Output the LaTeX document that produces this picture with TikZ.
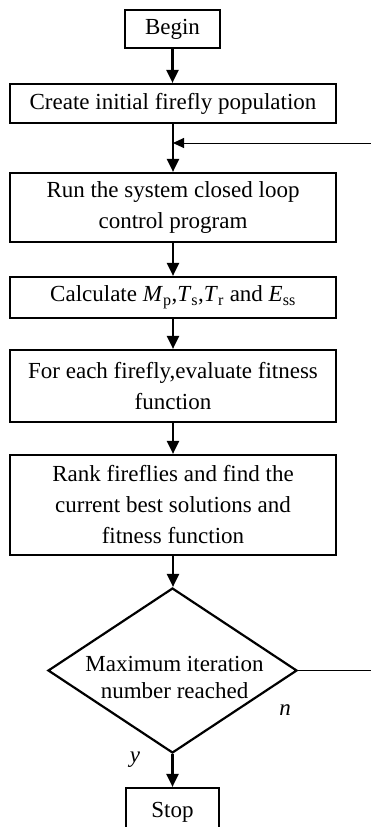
\documentclass[tikz,border=0pt]{standalone}
\usepackage{fontspec}
\setmainfont{Liberation Serif}
\usetikzlibrary{arrows.meta,shapes.geometric}
\begin{document}
\begin{tikzpicture}[x=1pt,y=-1pt,
  box/.style={draw,line width=2.2pt,inner sep=0pt,align=center,minimum width=326pt,font=\fontsize{23}{31}\selectfont},
  arr/.style={line width=2.2pt,-{Triangle[length=13pt,width=12pt]}},
  thinarr/.style={line width=1pt,-{Triangle[length=11pt,width=10pt]}},
  lbl/.style={font=\fontsize{23}{31}\selectfont\itshape,inner sep=0pt}]
\useasboundingbox (0,0) rectangle (371,827);
\clip (0,0) rectangle (371,827);
\node[box,minimum width=95pt,minimum height=38pt] (begin) at (172.5,29) {Begin};
\node[box,minimum height=39pt] (create) at (173,103.5) {Create initial firefly population};
\node[box,minimum height=69pt] (run) at (173,207.5) {Run the system closed loop\\control program};
\node[box,minimum height=41pt] (calc) at (173,297.5) {Calculate \textit{M}\textsubscript{p},\textit{T}\textsubscript{s},\textit{T}\textsubscript{r} and \textit{E}\textsubscript{ss}};
\node[box,minimum height=72pt] (each) at (173,386) {For each firefly,evaluate fitness\\function};
\node[box,minimum height=100pt] (rank) at (173,505) {Rank fireflies and find the\\current best solutions and\\fitness function};
\node[draw,diamond,line width=2.2pt,minimum width=249pt,minimum height=165pt,inner sep=0pt] (dia) at (172.5,670.5) {};
\node[align=center,inner sep=0pt,font=\fontsize{23}{27}\selectfont] (diatext) at (174.5,677) {Maximum iteration\\number reached};
\node[box,minimum width=93pt,minimum height=48pt] (stop) at (172.5,812) {Stop};
\node[lbl] (nlab) at (285,710) {n};
\node[lbl] (ylab) at (135,760) {y};
\coordinate (fbin) at (371,143);
\coordinate (fbout) at (371,670.5);
\draw[arr] (begin.south) -- (begin.south |- create.north);
\draw[arr] (create.south -| run.north) -- (run.north);
\draw[arr] (run.south) -- (calc.north);
\draw[arr] (calc.south) -- (each.north);
\draw[arr] (each.south) -- (rank.north);
\draw[arr] (rank.south) -- (rank.south |- dia.north);
\draw[arr] (dia.south) -- (dia.south |- stop.north);
\draw[thinarr] (fbin) -- (fbin -| run.north);
\draw[line width=1pt] (dia.east) -- (fbout);
\end{tikzpicture}
\end{document}
